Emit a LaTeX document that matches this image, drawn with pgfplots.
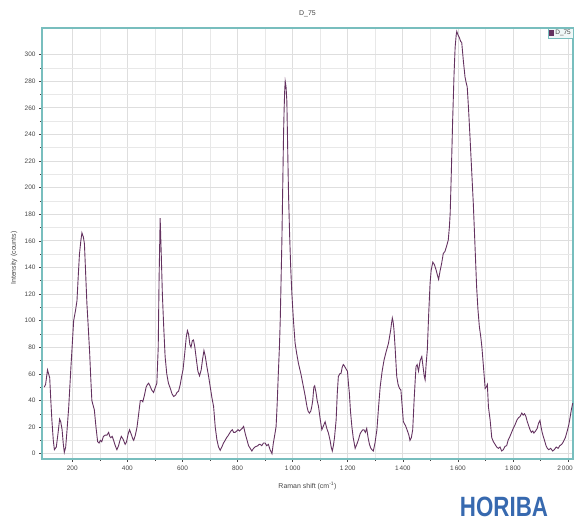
\documentclass[border=0pt]{standalone}
\usepackage{pgfplots}
\pgfplotsset{compat=1.18}
\usepackage{fontspec}
\setmainfont{Liberation Sans}
\definecolor{spec}{RGB}{100,50,96}
\definecolor{frame}{RGB}{120,190,190}
\definecolor{gridc}{RGB}{222,222,222}
\definecolor{txt}{RGB}{70,70,70}
\definecolor{horiba}{RGB}{55,105,175}

\pgfplotstableread{
x y
98 50
103 52
110 63
114 60
118 57
122 40
126 25
131 10
135 3
142 5
148 15
154 26
158 24
163 18
167 8
171 1
176 5
181 18
187 35
195 65
205 100
212 108
217 115
222 135
226 150
231 160
235 166
240 163
244 158
248 138
253 113
258 95
263 76
267 57
271 40
276 36
280 33
286 20
292 9
297 8
302 10
307 9
313 13
320 14
326 14
332 16
336 13
340 12
345 13
350 10
356 6
362 3
368 6
373 10
378 13
384 11
388 9
392 7
397 9
403 15
408 18
415 14
420 11
423 10
429 14
435 20
441 30
447 40
452 40
456 39
462 44
468 50
473 52
477 53
482 51
488 48
495 46
500 49
507 53
512 80
515 130
519 177
523 150
527 120
532 95
537 73
543 60
549 53
556 49
562 45
568 43
575 44
580 46
586 47
592 52
597 58
602 63
608 75
614 88
618 92.5
622 90
627 82
631 80
636 85
640 85.5
645 80
651 70
656 62
662 58.5
668 63
673 71
678 77.5
683 73
689 65
695 58
701 50
707 42
713 35.5
719 20
725 10.5
731 5
737 2.5
743 5
749 8
755 10
760 12
764 13
770 15
776 17
781 18
786 16
791 16
797 17
802 18
807 17
812 18
817 19
822 20.5
828 15
834 10.5
840 6
846 4
852 2
858 4
863 5
868 5.5
874 6
878 7
882 7
888 6
894 8
900 8
906 6
912 7
918 3
925 0
930 8
935 14
940 20.5
944 38
948 60
952 80
955 100
958 130
961 160
964 200
967 240
969 258
971 272
973 280
976 276
979 265
982 230
985 196
989 165
993 140
997 121
1003 100
1009 83
1015 75
1021 68
1030 60
1039 50.5
1045 44
1052 35.5
1056 32
1061 30.5
1066 32
1070 36
1073 40
1077 50
1080 51
1085 46
1089 40
1094 35.5
1100 26
1106 18
1112 21
1118 24
1124 19
1130 15.5
1136 10
1140 5
1144 2
1148 6
1152 12
1158 25.5
1162 45
1166 58
1171 60
1176 60.5
1180 65
1184 67
1188 66
1193 64
1199 62
1203 52
1206 45.5
1210 32
1215 20.5
1220 12
1227 4
1233 7
1239 10.5
1245 15
1251 17
1255 18
1259 18
1264 16
1269 19
1274 12
1279 7
1284 4
1288 3
1293 2
1299 8
1306 18
1312 35
1318 50.5
1325 62
1332 70.5
1340 77
1348 83
1352 88
1356 93
1359 98
1362 102
1365 99
1368 93
1372 80
1378 58
1383 52
1388 49
1393 48
1398 35
1402 24
1410 21
1417 17
1422 14
1426 10
1431 12
1436 18
1441 40
1445 55
1448 65.5
1452 67
1457 62
1463 70
1469 73
1472 68
1478 58
1481 55.5
1485 68
1489 78
1494 105
1499 128
1503 138
1509 144
1515 142
1521 138
1526 134
1530 131
1535 137
1541 143
1547 150.5
1553 152
1559 156
1565 160.5
1569 170
1572 180.5
1576 210
1581 250.5
1586 285
1590 305.5
1594 315
1596 317.5
1600 315
1605 313
1610 310
1614 309
1620 295
1626 283
1630 279
1634 275.5
1639 258
1644 238
1650 213
1656 188
1662 157
1668 125.5
1673 108
1678 95.5
1683 88
1687 80.5
1693 65
1699 49
1703 50
1707 52
1711 35
1717 25.5
1723 12
1729 9
1735 7
1741 5
1747 4
1753 5
1759 2
1765 3
1771 5.5
1777 6
1783 10.5
1789 13
1795 16
1801 19
1808 22
1815 25.5
1820 27
1826 28
1832 30.5
1837 29
1842 30
1847 28
1852 24
1857 21
1862 18
1867 16
1872 17
1876 15.5
1882 17
1888 19
1893 23
1898 25
1902 20
1906 16
1910 13
1916 9
1920 6
1925 4
1930 3
1937 4
1944 2
1950 3
1957 5
1964 4
1970 6
1977 7
1983 9
1990 12
1997 17
2003 22
2008 28
2012 33
2017 38
}\spectrum

\begin{document}
\begin{tikzpicture}[x=1bp,y=1bp]
\begin{axis}[
  at={(0,0)}, anchor=south west,
  scale only axis, width=531bp, height=431bp,
  xmin=90, xmax=2018, ymin=-4, ymax=320,
  xtick={200,400,...,2000}, minor x tick num=1,
  xticklabels={200,400,600,800,1\,000,1\,200,1\,400,1\,600,1\,800,\makebox[0pt]{\kern-6bp 2\,000}},
  ytick={0,20,...,300}, minor y tick num=1,
  xtick pos=bottom, ytick pos=left,
  grid=both,
  major grid style={gridc, line width=0.7pt},
  minor grid style={gridc!70, line width=0.5pt},
  axis line style={frame, line width=1.2pt},
  tick style={txt, line width=0.5pt},
  tick align=outside, major tick length=3bp, minor tick length=2bp,
  ticklabel style={font=\fontsize{6.5}{8}\selectfont, text=txt},
  /pgf/number format/assume math mode=true,
  xlabel={Raman shift (cm\textsuperscript{-1})},
  ylabel={Intensity (counts)},
  xlabel style={at={(axis description cs:0.5,0)}, anchor=base, yshift=-30bp, font=\fontsize{7}{8}\selectfont, text=txt},
  ylabel style={at={(axis description cs:-0.0527,0.466)}, anchor=center, font=\fontsize{7}{8}\selectfont, text=txt},
  title={D\_75},
  title style={at={(axis description cs:0.5,1.018)}, anchor=center, yshift=0pt, font=\fontsize{7}{8}\selectfont, text=txt},
  legend style={at={(1,1)}, anchor=north east, draw=frame, fill=frame!12, font=\fontsize{6.5}{7}\selectfont, text=txt, inner sep=1pt, row sep=0pt, nodes={inner sep=1pt}},
  legend cell align=left,
]
\addplot[spec, line width=0.9pt, no marks,
  legend image code/.code={\fill[spec] (0bp,-2.5bp) rectangle (4.5bp,2.5bp);}]
  table[x=x, y=y] {\spectrum};
\addlegendentry{D\_75}
\end{axis}
\node[font=\bfseries\fontsize{28}{30}\selectfont, text=horiba, xscale=0.8] at (462,-48) {HORIBA};
\pgfresetboundingbox
\path[use as bounding box] (-42,-63) rectangle (532,459);
\end{tikzpicture}
\end{document}
